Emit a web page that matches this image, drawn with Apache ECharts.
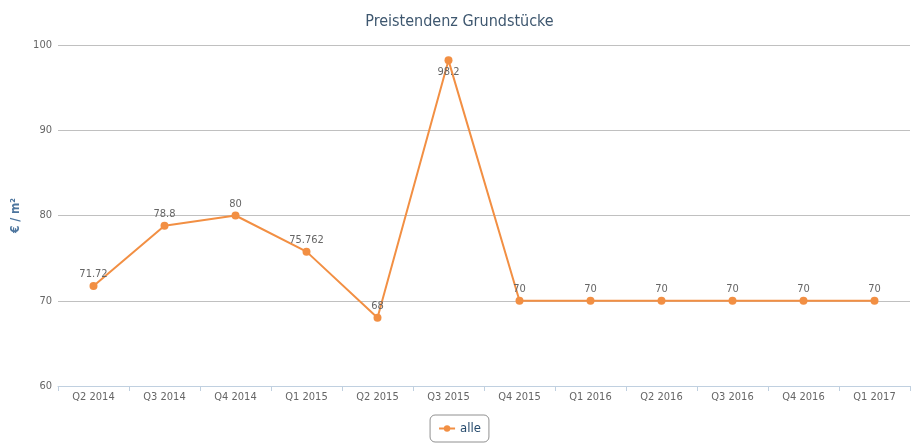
<!DOCTYPE html>
<html>
<head>
<meta charset="utf-8">
<script src="https://cdn.jsdelivr.net/npm/echarts@6/dist/echarts.min.js"></script>
<style>
  html, body { margin: 0; padding: 0; background: #fff; }
  #chart { width: 919px; height: 443px; }
</style>
</head>
<body>
<div id="chart"></div>
<script>
// Quartale
const quarters = ['Q2 2014', 'Q3 2014', 'Q4 2014', 'Q1 2015', 'Q2 2015', 'Q3 2015',
  'Q4 2015', 'Q1 2016', 'Q2 2016', 'Q3 2016', 'Q4 2016', 'Q1 2017'];
// Preis je m²
const prices = [71.72, 78.8, 80, 75.762, 68, 98.2, 70, 70, 70, 70, 70, 70];
const yTicks = [60, 70, 80, 90, 100];

const font = "'DejaVu Sans Condensed', 'DejaVu Sans', sans-serif";

const seriesData = prices.map((v, i) => {
  // Spitzenwert: Beschriftung unterhalb, wie im Original
  if (v === Math.max(...prices)) {
    return { value: v, label: { position: 'bottom', distance: 2 } };
  }
  return v;
});

const option = {
  backgroundColor: '#fff',
  animation: false,
  textStyle: { fontFamily: font },
  title: {
    text: 'Preistendenz Grundstücke',
    left: 'center',
    top: 9,
    textStyle: { color: '#3e576f', fontSize: 16, fontWeight: 'normal', fontFamily: font }
  },
  grid: { left: 58, right: 9, top: 45, bottom: 57 },
  legend: {
    bottom: 1,
    left: 'center',
    data: ['alle'],
    borderColor: '#909090',
    borderWidth: 1,
    borderRadius: 5,
    padding: [7, 8, 7, 8],
    itemWidth: 16,
    itemHeight: 8,
    textStyle: { color: '#274b6d', fontSize: 13, fontFamily: font }
  },
  xAxis: {
    type: 'category',
    data: quarters,
    boundaryGap: true,
    axisLine: { lineStyle: { color: '#c0d0e0', width: 1 } },
    axisTick: { show: true, length: 5, lineStyle: { color: '#c0d0e0' } },
    axisLabel: { color: '#666', fontSize: 11, margin: 6, fontFamily: font },
    splitLine: { show: false }
  },
  yAxis: {
    type: 'value',
    min: yTicks[0],
    max: yTicks[yTicks.length - 1],
    interval: 10,
    name: '€ / m²',
    nameLocation: 'middle',
    nameGap: 36,
    nameMoveOverlap: false,
    nameRotate: 90,
    nameTextStyle: { color: '#4d759e', fontWeight: 'bold', fontSize: 12, fontFamily: font },
    axisLine: { show: false },
    axisTick: { show: false },
    axisLabel: { color: '#666', fontSize: 11, margin: 6, fontFamily: font },
    splitLine: { lineStyle: { color: '#c0c0c0', width: 1 } }
  },
  series: [
    {
      name: 'alle',
      type: 'line',
      data: seriesData,
      color: '#f28f43',
      lineStyle: { color: '#f28f43', width: 2 },
      symbol: 'circle',
      symbolSize: 8,
      itemStyle: { color: '#f28f43' },
      label: {
        show: true,
        position: 'top',
        distance: 2,
        color: '#666',
        fontSize: 11,
        fontFamily: font
      }
    }
  ]
};

const myChart = echarts.init(document.getElementById('chart'));
myChart.setOption(option, true);
</script>
</body>
</html>
